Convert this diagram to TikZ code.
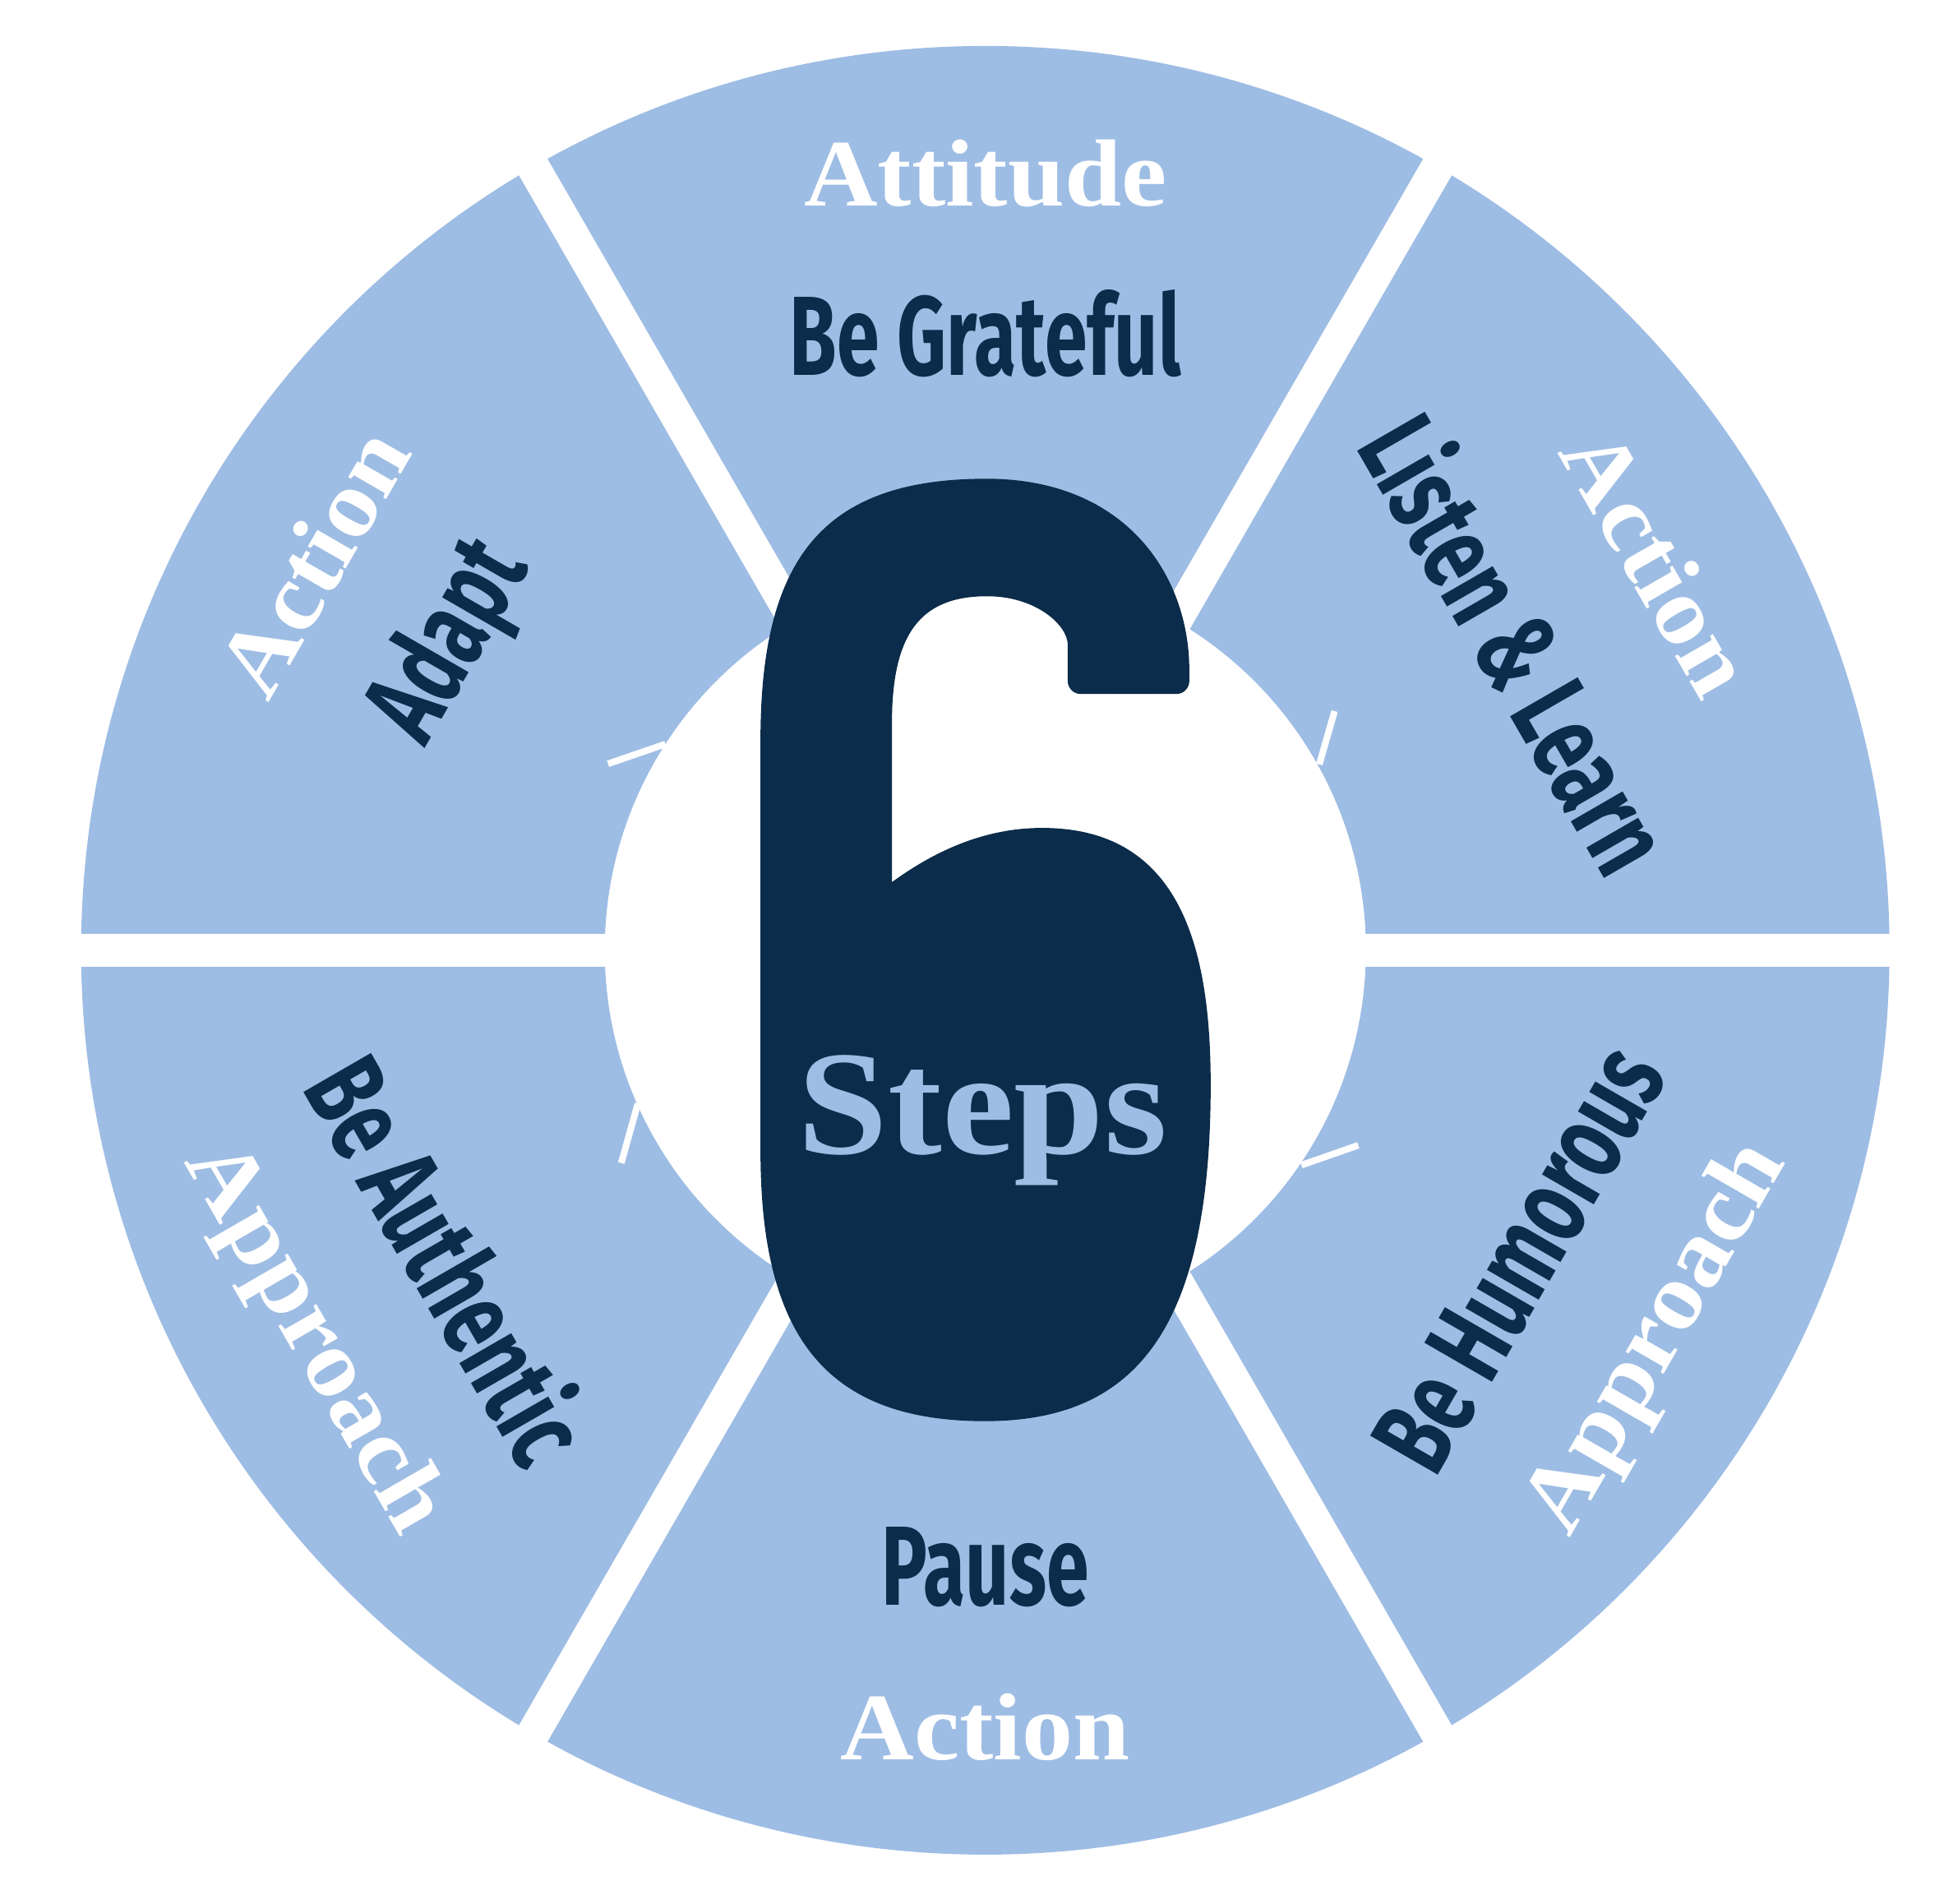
\documentclass[tikz,border=0pt]{standalone}
\usepackage{fontspec}
\usepackage{graphicx}
\usepackage{tikz}

\newfontfamily\headfont{Liberation Serif}
\newfontfamily\stepfont{Fira Sans}
\definecolor{segblue}{HTML}{9EBDE4}
\definecolor{navy}{HTML}{0B2C4A}
\newcommand{\slim}[1]{\scalebox{0.68}[1]{#1}}
\newcommand{\wide}[1]{\scalebox{1.07}[1]{#1}}

\begin{document}
\begin{tikzpicture}[
    seg/.style={fill=segblue},
    gap/.style={draw=white, line width=0.4cm},
    nick/.style={draw=white, line width=0.08cm},
    head/.style={text=white, inner sep=0pt, font=\headfont\bfseries\fontsize{33}{33}\selectfont},
    item/.style={text=navy, inner sep=0pt, font=\stepfont\bfseries\fontsize{39}{39}\selectfont},
]
\useasboundingbox (-11.987,-11.591) rectangle (11.833,11.559);

% ring of six segments
\fill[seg, even odd rule] (0,0) circle (11) circle (4.63);
\foreach \a in {0,60,...,300}
  \draw[gap] (0,0) -- (\a:11.4);

% small white nicks at the inner edge
\draw[nick] (147.2:4.63) -- (153.7:5.12);
\draw[nick] (203.8:4.62) -- (210.3:5.13);
\draw[nick] (29.1:4.65) -- (34.4:5.15);
\draw[nick] (-34.2:4.65) -- (-27.6:5.12);

% the big 6
\begin{scope}[x=0.01cm, y=-0.01cm, shift={(-1198.7,-1155.9)}]
\fill[navy] (925,1400) -- (925,900)
  .. controls (925,680) and (1000,582) .. (1200,582)
  .. controls (1370,582) and (1447,700) .. (1447,815)
  [rounded corners=4.5pt] -- (1447,844) -- (1299,844) -- (1299,800) [sharp corners]
  .. controls (1299,760) and (1260,725) .. (1201,725)
  .. controls (1120,725) and (1085,770) .. (1085,880)
  -- (1085,1073)
  .. controls (1140,1033) and (1200,1007) .. (1268,1007)
  .. controls (1440,1007) and (1473,1160) .. (1473,1320)
  .. controls (1473,1620) and (1380,1729) .. (1198,1729)
  .. controls (1000,1729) and (925,1620) .. (925,1400) -- cycle;
\end{scope}

\node[font=\headfont\bfseries\fontsize{51.5}{52}\selectfont, text=segblue, anchor=base, inner sep=0pt] (steps) at (-0.03,-2.474) {\scalebox{1.09}[1]{Steps}};

% labels of the segments
\foreach \ang/\rot/\outw/\inw [count=\i] in {90/0/Attitude/Be Grateful, 30/-60/Action/Listen \& Learn, 150/60/Action/Adapt, 210/-60/Approach/Be Authentic, 270/0/Action/Pause, 330/60/Approach/Be Humorous}
{
  \node[head, rotate=\rot] (w\i) at (\ang:9.45) {\wide{\outw}};
  \node[item, rotate=\rot] (d\i) at (\ang:7.5) {\slim{\inw}};
}
\end{tikzpicture}
\end{document}
